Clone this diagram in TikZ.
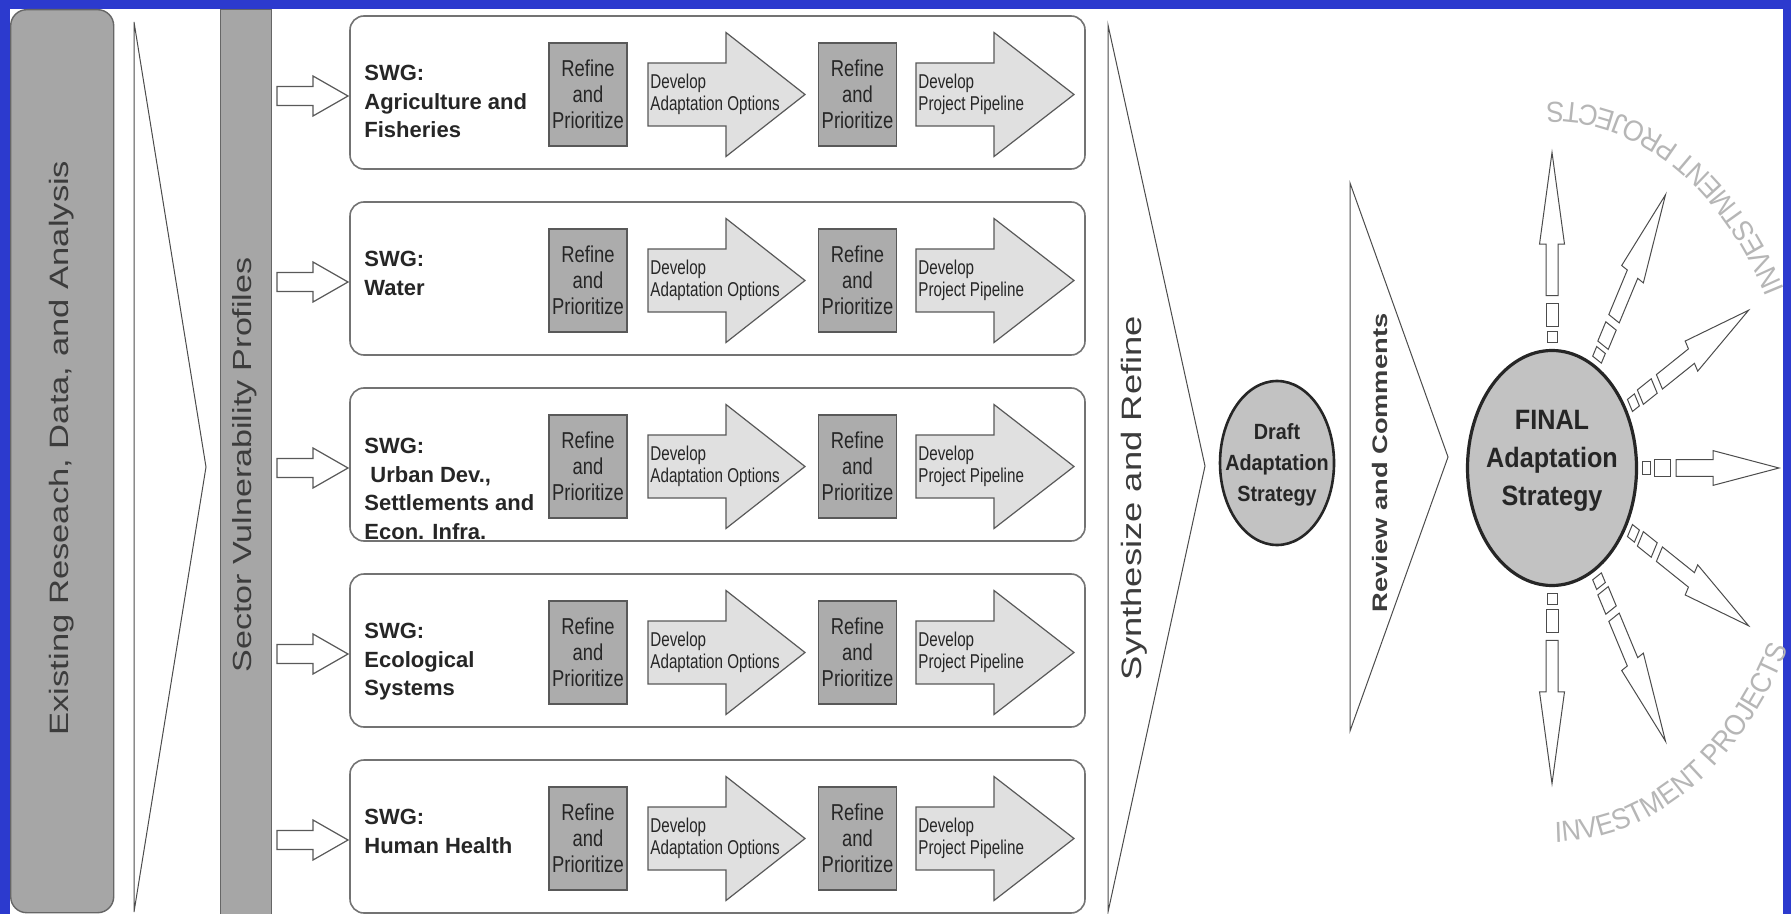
\documentclass[tikz,border=0pt]{standalone}
\usepackage{fontspec}
\setmainfont{Liberation Sans}
\newfontfamily\vfont[FakeStretch=1.3]{Liberation Sans}
\newfontfamily\nfont[FakeStretch=0.8]{Liberation Sans}
\newfontfamily\dfont[FakeStretch=0.76]{Liberation Sans}
\newfontfamily\cfont[FakeStretch=0.9]{Liberation Sans}
\newfontfamily\ifont[FakeStretch=0.92]{Liberation Sans}
\usetikzlibrary{shapes.geometric,decorations.text}

\definecolor{bgblue}{RGB}{44,58,206}
\definecolor{panelgray}{RGB}{166,166,166}
\definecolor{refgray}{RGB}{172,172,172}
\definecolor{devgray}{RGB}{224,224,224}
\definecolor{circgray}{RGB}{194,194,194}
\definecolor{ipgray}{RGB}{182,182,182}
\definecolor{txt}{RGB}{38,38,38}

\newcommand\hblockarrow[7]{%
  \draw[#1] (#2,{#5-#6}) -- (#3,{#5-#6}) -- (#3,{#5-#7}) -- (#4,#5) -- (#3,{#5+#7}) -- (#3,{#5+#6}) -- (#2,{#5+#6}) -- cycle;}

\tikzset{
 tri/.style={draw=black!70, line width=0.5pt},
 swgbox/.style={draw=black!55, fill=white, line width=0.8pt, rounded corners=7pt, minimum width=367.5pt, minimum height=76.5pt, inner sep=0},
 refbox/.style={draw=black!65, fill=refgray, line width=0.7pt, minimum width=39pt, minimum height=51.5pt, inner sep=0, align=center, font=\nfont\fontsize{11.5}{13}\selectfont, text=txt},
 devarrow/.style={draw=black!65, fill=devgray, line width=0.6pt},
 devtext/.style={anchor=west, inner sep=0, align=left, font=\dfont\fontsize{10}{11}\selectfont, text=txt},
 inarrow/.style={draw=black!65, fill=white, line width=0.6pt},
 swgtext/.style={anchor=north west, inner sep=0, align=left, font=\bfseries\fontsize{11}{14.25}\selectfont, text=txt},
 vtext/.style={rotate=90, inner sep=0, text=txt!90},
 ray/.style={draw=black!70, fill=white, line width=0.5pt},
 bigcirc/.style={ellipse, draw=black!85, fill=circgray, inner sep=0},
}

\begin{document}
\begin{tikzpicture}[x=0.5pt,y=-0.5pt]
\useasboundingbox (0,0) rectangle (1791,914);
\fill[bgblue] (0,0) rectangle (1791,914);
\fill[white] (10,9) rectangle (1783,914);

% left column
\node[draw=black!60, fill=panelgray, rounded corners=8pt, minimum width=51.5pt, minimum height=451.5pt, inner sep=0, anchor=north west, line width=0.7pt] (research) at (10,9) {};
\node[vtext, font=\vfont\fontsize{13.3}{13.3}\selectfont] (researchtext) at (62,448) {Existing Reseach, Data, and Analysis};

\coordinate (t1a) at (134,22);
\coordinate (t1b) at (206,467);
\coordinate (t1c) at (134,912);
\draw[tri] (t1a) -- (t1b) -- (t1c) -- cycle;

\node[draw=black!60, fill=panelgray, minimum width=25.5pt, minimum height=452.5pt, inner sep=0, anchor=north west, line width=0.7pt] (sector) at (220,9) {};
\node[vtext, font=\vfont\fontsize{13.1}{13.1}\selectfont] (sectortext) at (245,465) {Sector Vulnerability Profiles};

% rows
\foreach \c [count=\i] in {93,279,465,651,837} {
  \node[swgbox] (box\i) at (717.5,\c-0.5) {};
  \hblockarrow{inarrow}{277}{313}{348}{\c+3}{9.5}{20}
  \node[refbox] (refA\i) at (588,\c+1.5) {Refine\\and\\Prioritize};
  \hblockarrow{devarrow}{648}{726}{805}{\c+1.5}{31.5}{62}
  \node[devtext] (devA\i) at (650,\c+1.5) {Develop\\Adaptation Options};
  \node[refbox] (refB\i) at (857.5,\c+1.5) {Refine\\and\\Prioritize};
  \hblockarrow{devarrow}{916}{994}{1074}{\c+1.5}{31.5}{62}
  \node[devtext] (devB\i) at (918,\c+1.5) {Develop\\Project Pipeline};
}

\node[swgtext] (swg1) at (364,65) {SWG:\\Agriculture and\\Fisheries};
\node[swgtext] (swg2) at (364,251) {SWG:\\Water};
\begin{scope}
  \clip[rounded corners=7pt] (350,388) rectangle (1085,540);
  \node[swgtext] (swg3) at (364,438) {SWG:\\\hspace*{3pt}Urban Dev.,\\Settlements and\\Econ. Infra.};
\end{scope}
\node[swgtext] (swg4) at (364,623) {SWG:\\Ecological\\Systems};
\node[swgtext] (swg5) at (364,809) {SWG:\\Human Health};

% synthesize
\coordinate (t2a) at (1108,25);
\coordinate (t2b) at (1205,466);
\coordinate (t2c) at (1108,912);
\draw[tri] (t2a) -- (t2b) -- (t2c) -- cycle;
\node[vtext, font=\vfont\fontsize{14}{14}\selectfont] (synth) at (1134,498) {Synthesize and Refine};

% draft
\node[bigcirc, line width=1.3pt, minimum width=57pt, minimum height=82pt] (draft) at (1277,463) {};
\node[align=center, inner sep=0, text=txt, font=\cfont\bfseries\fontsize{11}{15.5}\selectfont] (drafttext) at (1277,465) {Draft\\Adaptation\\Strategy};

% review
\coordinate (t3a) at (1350,183);
\coordinate (t3b) at (1448,457);
\coordinate (t3c) at (1350,731);
\draw[tri] (t3a) -- (t3b) -- (t3c) -- cycle;
\node[vtext, font=\vfont\bfseries\fontsize{10.5}{10.5}\selectfont] (review) at (1380,463) {Review and Comments};

% final
\node[bigcirc, line width=1.6pt, minimum width=84.5pt, minimum height=117.5pt] (final) at (1552,468) {};
\node[align=center, inner sep=0, text=txt, font=\cfont\bfseries\fontsize{14}{19}\selectfont] (finaltext) at (1552,461) {FINAL\\Adaptation\\Strategy};

\begin{scope}[shift={(final.center)}, yscale=1.39]
  \foreach \a in {90,60,30,0,-30,-60,-90} {
    \begin{scope}[rotate=\a]
      \draw[ray] (90,-5) rectangle (98,5);
      \draw[ray] (102,-6) rectangle (118,6);
      \draw[ray] (124,-6) -- (161,-6) -- (161,-12.5) -- (227,0) -- (161,12.5) -- (161,6) -- (124,6) -- cycle;
    \end{scope}
  }
\end{scope}

\path[decorate, decoration={text along path, text align=center,
  text={|\ifont\fontsize{14.5}{14.5}\selectfont\color{ipgray}|INVESTMENT PROJECTS}}]
  ([shift={(-97:135pt and 187pt)}]final.center) arc[start angle=-97, end angle=-23, x radius=135pt, y radius=187pt];
\path[decorate, decoration={text along path, text align=center,
  text={|\ifont\fontsize{14.5}{14.5}\selectfont\color{ipgray}|INVESTMENT PROJECTS}}]
  ([shift={(24:133pt and 183pt)}]final.center) arc[start angle=24, end angle=98, x radius=133pt, y radius=183pt];
\end{tikzpicture}
\end{document}
